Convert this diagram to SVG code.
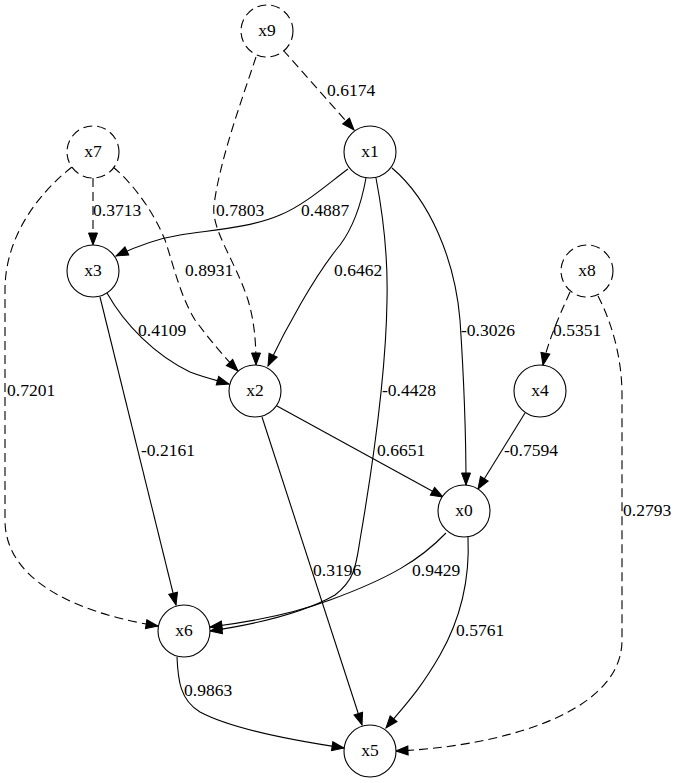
<svg xmlns="http://www.w3.org/2000/svg" width="679" height="783" viewBox="0 0 679 783" font-family="'Liberation Serif', 'Times New Roman', 'DejaVu Serif', serif">
  <style>
    .node circle { fill: #ffffff; stroke: #000000; stroke-width: 1.1; }
    .node.latent circle { stroke-dasharray: 9 5; }
    .node text { font-family: 'Liberation Serif', 'Times New Roman', 'DejaVu Serif', serif; font-size: 17.5px; text-anchor: middle; fill: #000000; }
    .edge { fill: none; stroke: #000000; stroke-width: 1.1; marker-end: url(#arrow); }
    .edge.dashed { stroke-dasharray: 9 5; }
    .lbl { font-family: 'Liberation Serif', 'Times New Roman', 'DejaVu Serif', serif; font-size: 17.5px; fill: #000000; }
  </style>
  <defs>
    <marker id="arrow" markerUnits="userSpaceOnUse" markerWidth="14" markerHeight="12" refX="13" refY="6" orient="auto">
      <path d="M1,1.5 L13,6 L1,10.5 Z" fill="#000000" stroke="#000000" stroke-width="1"/>
    </marker>
  </defs>
  <rect width="679" height="783" fill="#ffffff"/>

  <g id="edges">
    <!-- dashed edges from latent nodes -->
    <path class="edge dashed" d="M283,50 L354,130"/>
    <path class="edge dashed" d="M256,57 C240,105 220,160 214,205 C211,230 235,260 248,300 C254,320 256,340 256,365"/>
    <path class="edge dashed" d="M93,178 L93,245"/>
    <path class="edge dashed" d="M113,167 C135,185 155,215 165,240 C175,270 180,295 195,320 C210,340 225,358 238,371"/>
    <path class="edge dashed" d="M72,167 C40,192 5,235 5,290 L5,520 C5,590 100,617 158,626"/>
    <path class="edge dashed" d="M570,292 C562,310 548,340 543,365"/>
    <path class="edge dashed" d="M598,296 C613,325 622,360 622,395 L622,640 C622,720 480,748 396,751"/>
    <!-- solid edges -->
    <path class="edge" d="M348,169 C330,182 305,205 280,215 C250,228 210,230 180,235 C155,239 135,247 116,256"/>
    <path class="edge" d="M366,178 C362,200 355,225 340,245 C315,275 285,330 268,366"/>
    <path class="edge" d="M376,178 C384,220 388,260 387,300 C386,380 372,470 360,540 C356,565 355,580 335,595 C300,615 250,625 210,631"/>
    <path class="edge" d="M392,168 C430,200 455,260 460,320 C464,380 466,440 466,485"/>
    <path class="edge" d="M107,293 C125,325 155,355 190,372 C203,377 215,380 229,384"/>
    <path class="edge" d="M100,297 L176,605"/>
    <path class="edge" d="M277,406 L443,497"/>
    <path class="edge" d="M262,417 L362,725"/>
    <path class="edge" d="M525,413 L478,489"/>
    <path class="edge" d="M446,533 C420,560 390,578 330,600 C290,615 250,622 210,627"/>
    <path class="edge" d="M468,537 C470,580 460,620 440,655 C420,690 405,705 386,728"/>
    <path class="edge" d="M177,657 C178,680 180,700 200,712 C230,728 290,740 344,748"/>

    <!-- edge weights -->
    <text class="lbl" x="327" y="96">0.6174</text>
    <text class="lbl" x="93" y="216">0.3713</text>
    <text class="lbl" x="216" y="216">0.7803</text>
    <text class="lbl" x="301" y="216">0.4887</text>
    <text class="lbl" x="185" y="276">0.8931</text>
    <text class="lbl" x="334" y="276">0.6462</text>
    <text class="lbl" x="461" y="336">-0.3026</text>
    <text class="lbl" x="553" y="336">0.5351</text>
    <text class="lbl" x="138" y="336">0.4109</text>
    <text class="lbl" x="382" y="396">-0.4428</text>
    <text class="lbl" x="7" y="396">0.7201</text>
    <text class="lbl" x="141" y="456">-0.2161</text>
    <text class="lbl" x="377" y="456">0.6651</text>
    <text class="lbl" x="504" y="456">-0.7594</text>
    <text class="lbl" x="623" y="516">0.2793</text>
    <text class="lbl" x="313" y="576">0.3196</text>
    <text class="lbl" x="412" y="576">0.9429</text>
    <text class="lbl" x="456" y="636">0.5761</text>
    <text class="lbl" x="184" y="696">0.9863</text>
  </g>

  <g id="x9" class="node latent"><circle cx="267" cy="31" r="26"/><text x="267" y="36">x9</text></g>
  <g id="x7" class="node latent"><circle cx="93" cy="152" r="26"/><text x="93" y="157">x7</text></g>
  <g id="x1" class="node"><circle cx="370" cy="152" r="26"/><text x="370" y="157">x1</text></g>
  <g id="x3" class="node"><circle cx="93" cy="271" r="26"/><text x="93" y="276">x3</text></g>
  <g id="x8" class="node latent"><circle cx="587" cy="271" r="26"/><text x="587" y="276">x8</text></g>
  <g id="x2" class="node"><circle cx="255" cy="391" r="26"/><text x="255" y="396">x2</text></g>
  <g id="x4" class="node"><circle cx="540" cy="391" r="26"/><text x="540" y="396">x4</text></g>
  <g id="x0" class="node"><circle cx="464" cy="511" r="26"/><text x="464" y="516">x0</text></g>
  <g id="x6" class="node"><circle cx="184" cy="631" r="26"/><text x="184" y="636">x6</text></g>
  <g id="x5" class="node"><circle cx="370" cy="751" r="26"/><text x="370" y="756">x5</text></g>
</svg>
